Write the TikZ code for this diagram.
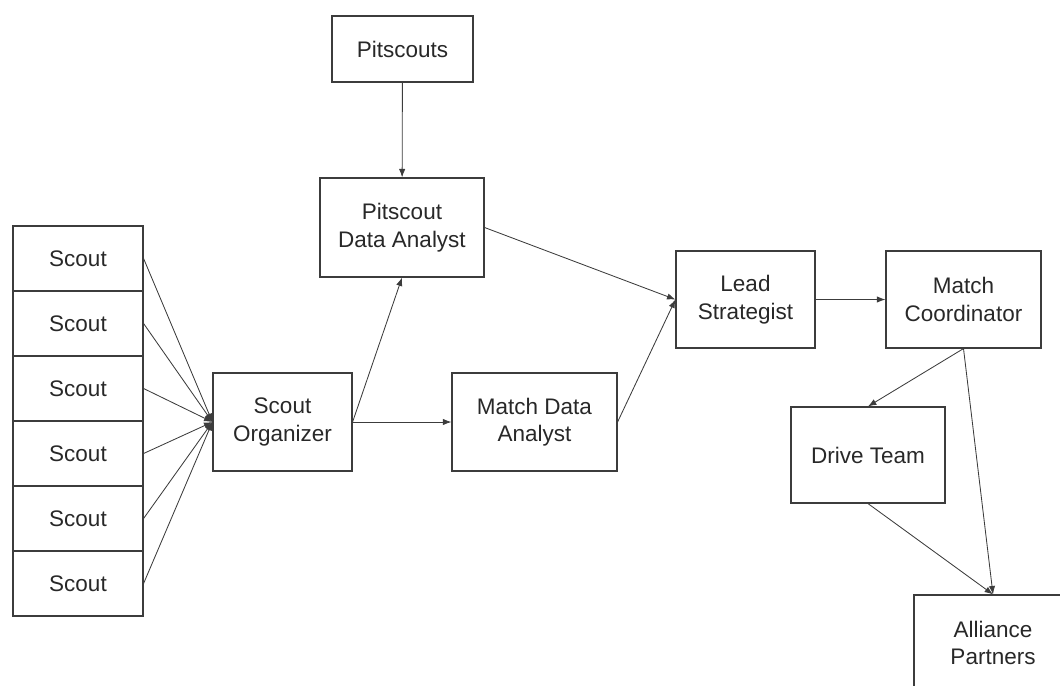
\documentclass[tikz,border=0pt]{standalone}
\usepackage{fontspec}
\setmainfont{Liberation Sans}
\usetikzlibrary{arrows.meta,positioning}
\definecolor{boxline}{RGB}{60,60,60}
\definecolor{textgray}{RGB}{40,40,40}

\begin{document}
\begin{tikzpicture}[
    x=0.025cm, y=-0.025cm,
    role/.style={draw=boxline,line width=0.8pt,align=center,inner sep=0,
      text=textgray,font=\fontsize{16}{19.5}\selectfont},
    scoutbox/.style={role,minimum width=3.25cm,minimum height=1.625cm},
    flow/.style={-{Latex[length=6pt,width=4.5pt]},boxline,line width=0.6pt},
  ]
    \clip (0,0) rectangle (1060,685);
    % scouts stacked on the left
    \foreach \i in {1,...,6}
      \node[scoutbox] (s\i) at (78,193.5+65*\i) {Scout};
    \node[role,minimum width=3.475cm,minimum height=2.45cm] (org) at (282.5,422) {Scout\\Organizer};
    \node[role,minimum width=3.525cm,minimum height=1.65cm] (pits) at (402.5,49) {Pitscouts};
    \node[role,minimum width=4.1cm,minimum height=2.475cm] (pda) at (402,227.5) {Pitscout\\Data Analyst};
    \node[role,minimum width=4.125cm,minimum height=2.45cm] (mda) at (534.5,422) {Match Data\\Analyst};
    \node[role,minimum width=3.475cm,minimum height=2.425cm] (lead) at (745.5,299.5) {Lead\\Strategist};
    \node[role,minimum width=3.875cm,minimum height=2.425cm] (coord) at (963.5,299.5) {Match\\Coordinator};
    \node[role,minimum width=3.85cm,minimum height=2.4cm] (drive) at (868,455) {Drive Team};
    \node[role,minimum width=3.95cm,minimum height=2.4cm] (ally) at (993,643) {Alliance\\Partners};
    % connectors
    \foreach \i in {1,...,6}
      \draw[flow] (s\i.east) -- (org.west);
    \draw[flow] (pits) -- (pda);
    \draw[flow] (org.east) -- (pda.south);
    \draw[flow] (org.east) -- (mda.west);
    \draw[flow] (pda.east) -- (lead.west);
    \draw[flow] (mda.east) -- (lead.west);
    \draw[flow] (lead) -- (coord);
    \draw[flow] (coord.south) -- (drive.north);
    \draw[flow] (coord.south) -- (ally.north);
    \draw[flow] (drive.south) -- (ally.north);
  \end{tikzpicture}
\end{document}
